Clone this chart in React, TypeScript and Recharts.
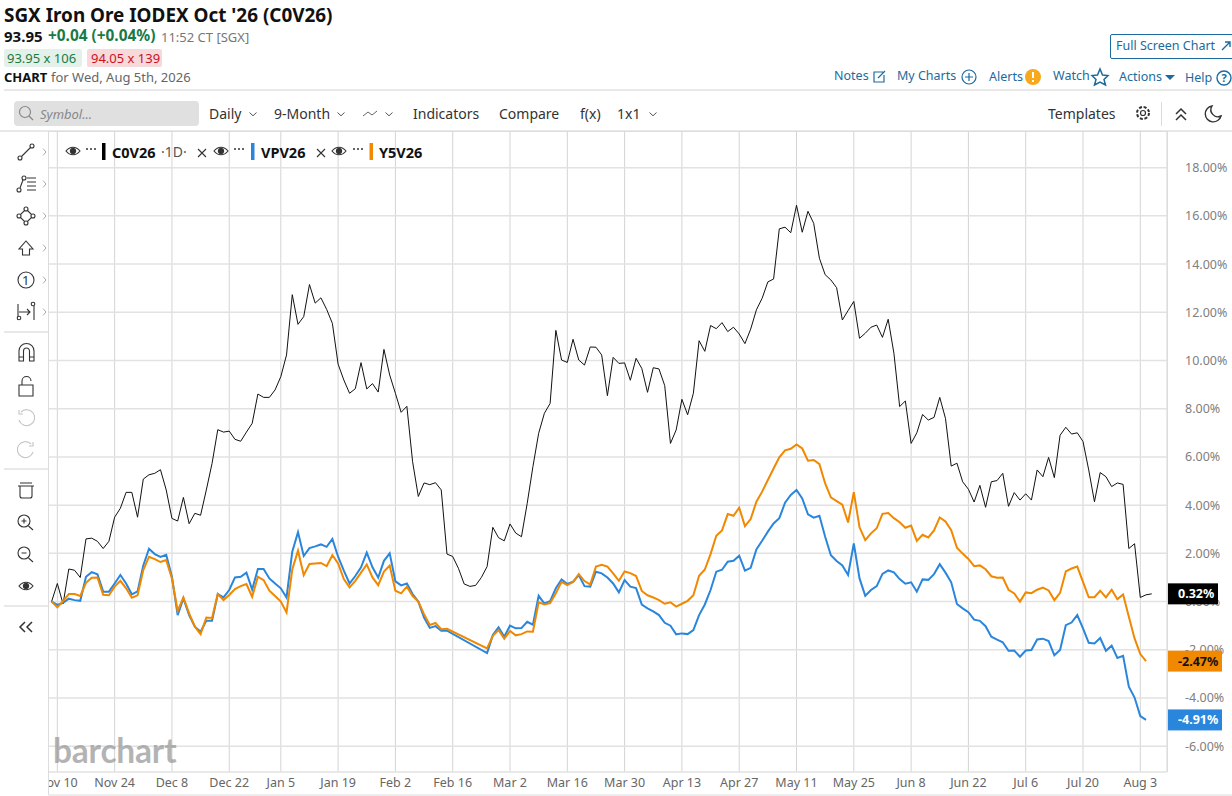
import { LineChart, Line, XAxis, YAxis, CartesianGrid } from 'recharts';

const tickDays = [1, 11, 21, 31, 40, 50, 60, 70, 80, 90, 100, 110, 120, 130, 140, 150, 160, 170, 180, 190];
const tickLabels = ['Nov 10', 'Nov 24', 'Dec 8', 'Dec 22', 'Jan 5', 'Jan 19', 'Feb 2', 'Feb 16', 'Mar 2', 'Mar 16', 'Mar 30', 'Apr 13', 'Apr 27', 'May 11', 'May 25', 'Jun 8', 'Jun 22', 'Jul 6', 'Jul 20', 'Aug 3'];
const percentTicks = [-6, -4, -2, 0, 2, 4, 6, 8, 10, 12, 14, 16, 18];

const c0v26 = [
  0, 0.75, -0.1, 1.35, 1.3, 1.0, 2.6, 2.63, 2.5, 2.2,
  2.5, 3.5, 3.87, 4.53, 4.53, 3.5, 5.08, 5.26, 5.32, 5.47,
  4.63, 3.45, 3.34, 4.32, 3.23, 3.66, 3.58, 4.63, 5.73, 7.13,
  7.03, 7.07, 6.73, 6.65, 7.03, 7.39, 8.61, 8.47, 8.47, 8.78,
  9.33, 10.23, 12.73, 11.5, 11.82, 13.15, 12.38, 12.6, 12.12, 11.54,
  9.85, 9.19, 8.64, 8.83, 9.91, 8.82, 9.04, 8.69, 10.46, 9.4,
  8.64, 7.85, 8.1, 5.8, 4.36, 4.92, 4.85, 4.93, 4.63, 1.97,
  1.87, 1.38, 0.73, 0.63, 0.67, 1.0, 1.45, 3.08, 2.65, 2.52,
  3.22, 2.84, 2.69, 4.07, 5.6, 6.98, 7.81, 8.22, 11.25, 10.02,
  9.92, 10.88, 10.02, 9.81, 10.56, 10.55, 10.23, 8.54, 10.13, 9.88,
  9.9, 9.18, 10.09, 9.67, 8.68, 9.7, 9.65, 8.96, 6.56, 7.12,
  8.39, 7.75, 8.64, 10.82, 10.38, 11.45, 11.32, 11.57, 11.2, 11.38,
  11.1, 10.7, 11.3, 12.1, 12.58, 13.26, 13.38, 15.46, 15.53, 15.3,
  16.44, 15.32, 16.19, 15.69, 14.24, 13.56, 13.34, 13.02, 11.68, 12.07,
  12.45, 10.92, 11.13, 11.38, 11.47, 10.96, 11.71, 10.3, 8.09, 8.32,
  6.56, 7.0, 7.76, 7.53, 7.64, 8.47, 7.6, 5.62, 5.74, 4.97,
  4.66, 4.13, 4.82, 3.91, 4.97, 5.02, 5.32, 3.95, 4.52, 4.21,
  4.47, 4.21, 5.46, 5.18, 5.98, 5.14, 6.9, 7.23, 6.95, 7.0,
  6.64, 5.46, 4.14, 5.35, 5.18, 4.77, 4.92, 4.86, 2.2, 2.4,
  0.17, 0.28, 0.32,
];

const vpv26 = [
  0, -0.14, -0.05, 0.12, 0.06, 0.03, 1.03, 1.22, 1.13, 0.41,
  0.41, 0.75, 1.1, 0.75, 0.3, 0.42, 1.5, 2.19, 1.97, 1.85,
  1.94, 1.03, -0.56, 0.13, -0.56, -1.04, -1.25, -0.8, -0.8, 0.31,
  0.17, 0.48, 1.0, 1.03, 1.2, 0.5, 1.35, 1.35, 0.96, 0.75,
  0.55, 0.17, 2.07, 2.88, 1.89, 2.22, 2.29, 2.37, 2.27, 2.6,
  1.86, 1.28, 0.75, 1.06, 1.42, 2.03, 1.42, 1.0, 1.69, 2.0,
  0.84, 0.67, 0.75, 0.31, 0, -0.66, -1.09, -1.02, -1.21, -1.21,
  null, null, null, null, null, null, -2.14, -1.39, -1.07, -1.46,
  -1.0, -1.11, -1.1, -0.84, -0.96, 0.24, -0.08, 0.02, 0.55, 0.92,
  0.73, 0.82, 1.1, 0.64, 0.62, 1.24, 1.17, 1.0, 0.75, 0.38,
  0.89, 0.62, 0.56, -0.13, -0.28, -0.41, -0.56, -0.88, -1.0, -1.36,
  -1.32, -1.35, -1.18, -0.56, -0.12, 0.48, 1.24, 1.32, 1.65, 1.69,
  1.9, 1.28, 1.4, 2.16, 2.52, 2.9, 3.24, 3.46, 4.1, 4.42,
  4.63, 4.28, 3.62, 3.48, 3.56, 2.69, 1.92, 1.68, 1.5, 1.1,
  2.41, 0.96, 0.24, 0.48, 0.64, 1.15, 1.29, 1.21, 0.93, 0.74,
  0.8, 0.41, 0.92, 0.9, 1.14, 1.55, 1.2, 0.8, -0.1, -0.28,
  -0.44, -0.75, -0.8, -1.02, -1.46, -1.58, -1.69, -2.04, -2.03, -2.29,
  -2.03, -2.01, -1.57, -1.54, -1.64, -2.23, -2.01, -0.98, -0.87, -0.56,
  -1.11, -1.71, -1.74, -1.51, -2.04, -1.83, -2.34, -2.25, -3.53, -3.98,
  -4.75, -4.91, null,
];

const y5v26 = [
  0, -0.24, 0.02, 0.31, 0.31, 0.23, 0.78, 0.99, 1.0, 0.28,
  0.26, 0.62, 0.86, 0.55, 0.16, 0.26, 1.31, 1.86, 1.76, 1.64,
  1.72, 0.96, -0.39, 0.17, -0.49, -1.04, -1.35, -0.66, -0.68, 0.31,
  0.06, 0.27, 0.52, 0.64, 0.73, 0.2, 1.03, 0.89, 0.45, 0.23,
  0, -0.45, 1.33, 2.11, 1.1, 1.56, 1.58, 1.6, 1.47, 1.92,
  1.58, 0.93, 0.59, 0.86, 1.2, 1.54, 1.0, 0.68, 1.24, 1.49,
  0.45, 0.34, 0.62, 0.23, 0, -0.52, -0.97, -0.89, -1.15, -1.13,
  null, null, null, null, null, null, -1.94, -1.42, -1.18, -1.54,
  -1.22, -1.4, -1.35, -1.24, -1.25, -0.03, -0.12, -0.06, 0.34, 0.82,
  0.68, 0.81, 1.14, 0.85, 0.71, 1.45, 1.53, 1.45, 1.17, 0.86,
  1.25, 1.18, 1.06, 0.44, 0.26, 0.17, 0.06, -0.09, -0.03, -0.21,
  -0.09, 0.03, 0.26, 1.07, 1.33, 1.97, 2.73, 2.95, 3.63, 3.56,
  3.89, 3.13, 3.42, 4.14, 4.56, 5.04, 5.52, 5.98, 6.27, 6.34,
  6.52, 6.35, 5.84, 5.87, 5.7, 4.9, 4.32, 4.17, 4.02, 3.28,
  4.54, 3.08, 2.55, 2.83, 3.04, 3.64, 3.67, 3.46, 3.29, 3.06,
  3.15, 2.52, 2.77, 2.66, 2.95, 3.49, 3.32, 2.96, 2.23, 1.99,
  1.77, 1.47, 1.5, 1.34, 1.05, 0.99, 1.0, 0.49, 0.34, 0,
  0.38, 0.35, 0.49, 0.58, 0.46, 0.06, 0.36, 1.25, 1.37, 1.45,
  0.82, 0.18, 0.18, 0.45, 0.17, 0.49, 0.1, 0.29, -0.63, -1.53,
  -2.18, -2.47, null,
];

const rows = c0v26.map((v, i) => ({ day: i, c0v26: v, vpv26: vpv26[i], y5v26: y5v26[i] }));

const FONT = '"Noto Sans", sans-serif';
const BLACK = '#000000';
const BLUE = '#2a86dc';
const ORANGE = '#f08800';
const LINK = '#1c6a9e';

function Txt({ x, y, size = 13, weight = 400, color = '#333', italic = false, children }: any) {
  return (
    <div
      style={{
        position: 'absolute', left: x, top: y - 12, height: 24, lineHeight: '24px', fontSize: size, fontWeight: weight,
        fontStyle: italic ? 'italic' : 'normal', color, whiteSpace: 'nowrap', fontFamily: FONT,
      }}
    >
      {children}
    </div>
  );
}

// last drawn point gets the coloured price tag in the axis gutter
function endTag(values: (number | null)[], bg: string, fg: string, w: number) {
  let last = values.length - 1;
  while (values[last] == null) last--;
  return (props: any) => {
    if (props.index !== last) return null;
    const x = 1119;
    return (
      <g>
        <rect x={x} y={props.y - 10.5} width={w} height={21} fill={bg} />
        <text x={x + 11} y={props.y + 4.5} fontSize={12.5} fontWeight={700} fontFamily={FONT} fill={fg}>
          {props.value.toFixed(2)}%
        </text>
      </g>
    );
  };
}

function Eye({ x, y, s = 1 }: any) {
  return (
    <g transform={`translate(${x} ${y}) scale(${s})`} fill="none" stroke="#333" strokeWidth={1.2}>
      <path d="M-7 0 C-3 -5 3 -5 7 0 C3 5 -3 5 -7 0 Z" />
      <circle r={2.6} fill="#333" />
    </g>
  );
}

function Chevron({ x, y }: any) {
  return <path d={`M${x - 3.5} ${y - 1.5} L${x} ${y + 1.8} L${x + 3.5} ${y - 1.5}`} fill="none" stroke="#555" strokeWidth={1} />;
}

function Icons() {
  const tool = { fill: 'none', stroke: '#333', strokeWidth: 1.1 };
  const faint = { fill: 'none', stroke: '#c4c4c4', strokeWidth: 1.1 };
  const sideChevrons = [152, 184, 216, 248, 280, 312];
  return (
    <svg width={1232} height={796} style={{ position: 'absolute', left: 0, top: 0, pointerEvents: 'none' }}>
      {/* rules and frame */}
      <path d="M4 90 H1232 M0 131 H1232 M4 332 H48 M4 469 H48 M4 606 H48" stroke="#d2d2d2" strokeWidth={1} fill="none" />
      <path d="M48.5 131 V795 H1232" stroke="#dcdcdc" strokeWidth={1} fill="none" />
      <path d="M1167.5 131 V772" stroke="#dcdcdc" strokeWidth={1} fill="none" />
      <path d="M1161.5 102 V126" stroke="#dcdcdc" strokeWidth={1} />

      {/* search box */}
      <circle cx={25} cy={112} r={5.5} fill="none" stroke="#888" strokeWidth={1.2} />
      <path d="M29 116 L33 120" stroke="#888" strokeWidth={1.3} />

      {/* range bar */}
      <Chevron x={253} y={114} />
      <Chevron x={341} y={114} />
      <path d="M363 116 L368 112 L372 115 L377 111" fill="none" stroke="#666" strokeWidth={1} />
      <Chevron x={389} y={114} />
      <Chevron x={653} y={114} />
      <g fill="none" stroke="#333" strokeWidth={1.2}>
        <circle cx={1143} cy={113} r={2.5} />
        <circle cx={1143} cy={113} r={6} strokeDasharray="3 1.7" strokeWidth={2} />
        <path d="M1176 114 L1181 109 L1186 114 M1176 120 L1181 115 L1186 120" strokeWidth={1.5} />
        <path d="M1212 106 A8 8 0 1 0 1221 116 A7 7 0 0 1 1212 106 Z" strokeWidth={1.4} />
      </g>

      {/* top right actions */}
      <g fill="none" stroke={LINK} strokeWidth={1.2}>
        <path d="M1222 50 L1230 42 M1225 42 H1230 V47" strokeWidth={1.4} />
        <path d="M883 72 H874 V82 H884 V75 M878 78 L885 71" />
        <circle cx={969} cy={77} r={7} />
        <path d="M965 77 H973 M969 73 V81" />
        <path d="M1100 69 L1102.5 75 L1108 75.5 L1104 79.5 L1105.5 85 L1100 82 L1094.5 85 L1096 79.5 L1092 75.5 L1097.5 75 Z" strokeWidth={1.5} />
        <circle cx={1224} cy={78} r={7} strokeWidth={1.4} />
      </g>
      <circle cx={1033} cy={77} r={8} fill="#f8a81c" />
      <path d="M1033 72 V78 M1033 80 V82" stroke="#fff" strokeWidth={2} />
      <path d="M1165 75 H1175 L1170 80 Z" fill={LINK} />
      <text x={1224} y={82} textAnchor="middle" fontSize={11} fontWeight={700} fill={LINK} fontFamily={FONT}>?</text>

      {/* drawing tools */}
      {sideChevrons.map((y) => (
        <path key={y} d={`M43 ${y - 3.5} L46 ${y} L43 ${y + 3.5}`} fill="none" stroke="#aaa" strokeWidth={1} />
      ))}
      <g {...tool}>
        <circle cx={20} cy={158} r={2} /><circle cx={32} cy={146} r={2} /><path d="M21.5 156.5 L30.5 147.5" />
        <circle cx={19} cy={190} r={2} /><circle cx={24} cy={178} r={2} /><path d="M20 188 L23 180 M27 178 H36 M27 182 H36 M27 186 H36 M27 190 H36" />
        <path d="M26 209 L33 216 L26 223 L19 216 Z" /><circle cx={26} cy={209} r={2} fill="#fff" /><circle cx={33} cy={216} r={2} fill="#fff" /><circle cx={26} cy={223} r={2} fill="#fff" /><circle cx={19} cy={216} r={2} fill="#fff" />
        <path d="M26 241 L33 249 H29.5 V255 H22.5 V249 H19 Z" />
        <circle cx={26} cy={280} r={8} />
        <path d="M18 304 V320 M34 306 V320 M19 312 H30 M27 309 L30 312 L27 315" />
        <circle cx={19} cy={318} r={1.8} fill="#fff" /><circle cx={33} cy={304} r={1.8} fill="#fff" />

        <path d="M19 361 V351 A7.5 7.5 0 0 1 34 351 V361 H29.5 V351 A3 3 0 0 0 23.5 351 V361 Z M19 357 H23.5 M29.5 357 H34" />
        <path d="M19 385 H33 V396 H19 Z M22 385 V381 A4.5 4.5 0 0 1 31 381" />
        <path d="M18 486 H34 M20 483 H32 M20 486 V496 Q20 498 22 498 H30 Q32 498 32 496 V486" />
        <circle cx={24} cy={521} r={6} /><path d="M28.5 526 L33 530 M21.5 521 H26.5 M24 518.5 V523.5" />
        <circle cx={24} cy={553} r={6} /><path d="M28.5 558 L33 562 M21.5 553 H26.5" />
      </g>
      <g {...faint}>
        <path d="M21 412 A8 8 0 1 1 19 420 M19 410 V414 H23" />
        <path d="M31 444 A8 8 0 1 0 33 452 M33 442 V446 H29" />
      </g>
      <Eye x={26} y={586} />
      <path d="M25 622 L20 627 L25 632 M32 622 L27 627 L32 632" fill="none" stroke="#333" strokeWidth={1.5} />

      {/* series legend */}
      <Eye x={73} y={151} />
      <Eye x={221} y={151} />
      <Eye x={339} y={151} />
      <g fill="#333">
        {[87, 91, 95, 235, 239, 243, 354, 358, 362].map((x) => <circle key={x} cx={x} cy={149} r={1} />)}
      </g>
      <rect x={102} y={143} width={3.5} height={17} fill={BLACK} />
      <rect x={251} y={143} width={3.5} height={17} fill={BLUE} />
      <rect x={369.5} y={143} width={3.5} height={17} fill={ORANGE} />
      <g stroke="#333" strokeWidth={1.1}>
        <path d="M198 149 L206 157 M206 149 L198 157" />
        <path d="M317 149 L325 157 M325 149 L317 157" />
      </g>
    </svg>
  );
}

export default function App() {
  const renderDay = (d: number) => tickLabels[tickDays.indexOf(d)] ?? '';
  return (
    <div style={{ position: 'absolute', left: 0, top: 0, width: 1232, height: 796, overflow: 'hidden', background: '#fff', fontFamily: FONT }}>
      <div style={{ position: 'absolute', left: 48, top: 131, width: 1184, height: 665, overflow: 'hidden' }}>
        <LineChart width={1184} height={665} data={rows} margin={{ top: 0, right: 0, bottom: 0, left: 0 }}>
          <CartesianGrid horizontal={false} stroke="#d4d4d4" strokeWidth={1} />
          <CartesianGrid vertical={false} stroke="#e2e2e2" strokeWidth={1.5} />
          <XAxis
            dataKey="day"
            type="number"
            domain={[-0.63, 194.66]}
            ticks={tickDays}
            tickFormatter={renderDay}
            interval={0}
            height={24}
            axisLine={false}
            tickLine={false}
            tickMargin={0}
            tick={{ fontSize: 12.5, fill: '#666', fontFamily: FONT }}
          />
          <YAxis
            orientation="right"
            domain={[-7.07, 19.52]}
            ticks={percentTicks}
            interval={0}
            width={65}
            axisLine={false}
            tickLine={false}
            tickMargin={12}
            tickFormatter={(v: number) => `${v.toFixed(2)}%`}
            tick={{ fontSize: 12.5, fill: '#808080', fontFamily: FONT, textAnchor: 'start' }}
          />
          <Line type="linear" dataKey="c0v26" stroke="#111" strokeWidth={1} dot={false} isAnimationActive={false} label={endTag(c0v26, BLACK, '#fff', 51)} />
          <Line type="linear" dataKey="vpv26" stroke={BLUE} strokeWidth={2} dot={false} connectNulls isAnimationActive={false} label={endTag(vpv26, BLUE, '#fff', 55)} />
          <Line type="linear" dataKey="y5v26" stroke={ORANGE} strokeWidth={2} dot={false} connectNulls isAnimationActive={false} label={endTag(y5v26, ORANGE, '#111', 55)} />
        </LineChart>
      </div>

      {/* watermark */}
      <div style={{ position: 'absolute', left: 53, top: 730, fontFamily: 'Lato, sans-serif', fontSize: 33.5, fontWeight: 700, lineHeight: '40px', color: 'rgba(150,150,150,0.72)', letterSpacing: -0.2 }}>
        barchart
      </div>

      {/* quote header */}
      <Txt x={4} y={15} size={18.9} weight={700} color="#111">SGX Iron Ore IODEX Oct '26 (C0V26)</Txt>
      <Txt x={4} y={36} size={15} weight={700} color="#111">93.95</Txt>
      <Txt x={48} y={36} size={15.4} weight={700} color="#1a7a45">+0.04 (+0.04%)</Txt>
      <Txt x={161} y={37} size={13} color="#777">11:52 CT [SGX]</Txt>
      <div style={{ position: 'absolute', left: 4, top: 49, width: 78, height: 18, background: '#e3f1ea', borderRadius: 2 }} />
      <Txt x={7} y={58} size={13} color="#1a7a45">93.95 x 106</Txt>
      <div style={{ position: 'absolute', left: 87, top: 49, width: 75, height: 18, background: '#f6d9da', borderRadius: 2 }} />
      <Txt x={91} y={58} size={13} color="#cc1122">94.05 x 139</Txt>
      <Txt x={4} y={77} size={13} weight={700} color="#111">CHART</Txt>
      <Txt x={51} y={77} size={13} color="#666">for Wed, Aug 5th, 2026</Txt>

      {/* top right */}
      <div style={{ position: 'absolute', left: 1110, top: 34, width: 124, height: 23, border: '1px solid #1c6a9e', borderRadius: 2 }} />
      <Txt x={1116} y={46} size={12.5} color={LINK}>Full Screen Chart</Txt>
      <Txt x={834} y={76} size={12.5} color={LINK}>Notes</Txt>
      <Txt x={897} y={76} size={12.5} color={LINK}>My Charts</Txt>
      <Txt x={989} y={77} size={12.5} color={LINK}>Alerts</Txt>
      <Txt x={1053} y={76} size={12.5} color={LINK}>Watch</Txt>
      <Txt x={1119} y={77} size={12.5} color={LINK}>Actions</Txt>
      <Txt x={1185} y={78} size={12.5} color={LINK}>Help</Txt>

      {/* range bar */}
      <div style={{ position: 'absolute', left: 14, top: 101, width: 185, height: 25, background: '#e0e0e0', borderRadius: 4 }} />
      <Txt x={40} y={114} size={13} italic color="#888">Symbol...</Txt>
      <Txt x={209} y={114} size={14} color="#333">Daily</Txt>
      <Txt x={274} y={114} size={14} color="#333">9-Month</Txt>
      <Txt x={413} y={114} size={14} color="#333">Indicators</Txt>
      <Txt x={499} y={114} size={14} color="#333">Compare</Txt>
      <Txt x={580} y={114} size={14} color="#333">f(x)</Txt>
      <Txt x={617} y={114} size={14} color="#333">1x1</Txt>
      <Txt x={1048} y={114} size={14} color="#333">Templates</Txt>

      {/* chart legend */}
      <Txt x={112} y={152} size={14.5} weight={700} color="#111">C0V26</Txt>
      <Txt x={161} y={152} size={14} color="#555">·1D·</Txt>
      <Txt x={261} y={152} size={14.5} weight={700} color="#111">VPV26</Txt>
      <Txt x={379} y={152} size={14.5} weight={700} color="#111">Y5V26</Txt>

      <Icons />
      <Txt x={22} y={280} size={13} color="#333">1</Txt>
    </div>
  );
}
